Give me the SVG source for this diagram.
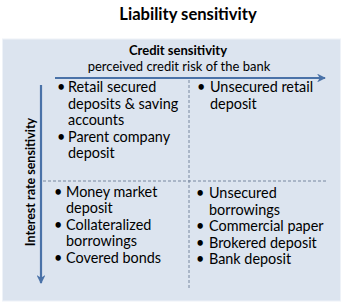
<svg xmlns="http://www.w3.org/2000/svg" width="343" height="303" viewBox="0 0 343 303">
<defs>
<marker id="ah" viewBox="0 0 10 10" refX="9" refY="5" markerWidth="4" markerHeight="4" orient="auto" markerUnits="strokeWidth">
<path d="M0,0 L10,5 L0,10 L3,5 Z" fill="#4a72a8"/>
</marker>
<style>
.t{font-family:Lato,"Open Sans","Liberation Sans",sans-serif;fill:#000;}
.b{font-size:14.4px;}
.ax{stroke:#4a72a8;stroke-width:2.2;fill:none;}
.ds{stroke:#6b7d96;stroke-width:0.9;stroke-dasharray:3,2;fill:none;}
</style>
</defs>
<rect width="343" height="303" fill="#ffffff"/>
<text class="t" x="188" y="20" text-anchor="middle" font-size="16.6" font-weight="bold">Liability sensitivity</text>
<rect x="2.5" y="39" width="338" height="262" fill="#dce4ef" stroke="#eef2f8" stroke-width="1"/>
<g id="connectors">
<line class="ax" x1="55" y1="78" x2="325" y2="78" marker-end="url(#ah)"/>
<line class="ax" x1="41" y1="85" x2="41" y2="283" marker-end="url(#ah)"/>
<line class="ds" x1="189" y1="80" x2="189" y2="288"/>
<line class="ds" x1="43" y1="181" x2="327" y2="181"/>
</g>
<g id="axis-labels">
<text class="t" x="178" y="55" text-anchor="middle" font-size="13" font-weight="bold">Credit sensitivity</text>
<text class="t" x="179" y="71" text-anchor="middle" font-size="13">perceived credit risk of the bank</text>
<text class="t" transform="translate(35,182) rotate(-90)" text-anchor="middle" font-size="12.5" font-weight="bold">Interest rate sensitivity</text>
</g>
<g id="q-top-left">
<text class="t b"><tspan x="57" y="92">•</tspan><tspan x="68" y="92">Retail secured</tspan><tspan x="68" y="108.5">deposits &amp; saving</tspan><tspan x="68" y="125">accounts</tspan><tspan x="57" y="141.5">•</tspan><tspan x="68" y="141.5">Parent company</tspan><tspan x="68" y="158">deposit</tspan></text>
</g>
<g id="q-top-right">
<text class="t b"><tspan x="197" y="92">•</tspan><tspan x="210" y="92">Unsecured retail</tspan><tspan x="210" y="108.5">deposit</tspan></text>
</g>
<g id="q-bottom-left">
<text class="t b"><tspan x="54" y="196.5">•</tspan><tspan x="66" y="196.5">Money market</tspan><tspan x="66" y="213">deposit</tspan><tspan x="54" y="229.5">•</tspan><tspan x="66" y="229.5">Collateralized</tspan><tspan x="66" y="246">borrowings</tspan><tspan x="54" y="262.5">•</tspan><tspan x="66" y="262.5">Covered bonds</tspan></text>
</g>
<g id="q-bottom-right">
<text class="t b"><tspan x="196" y="198">•</tspan><tspan x="209" y="198">Unsecured</tspan><tspan x="209" y="214.5">borrowings</tspan><tspan x="196" y="231">•</tspan><tspan x="209" y="231">Commercial paper</tspan><tspan x="196" y="247.5">•</tspan><tspan x="209" y="247.5">Brokered deposit</tspan><tspan x="196" y="264">•</tspan><tspan x="209" y="264">Bank deposit</tspan></text>
</g>
</svg>
